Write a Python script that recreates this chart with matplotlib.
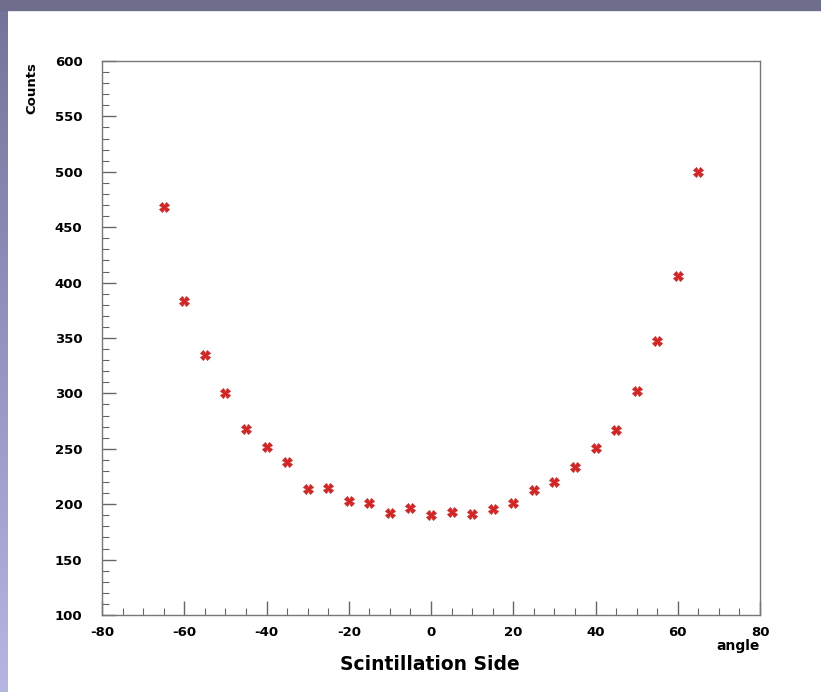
import numpy as np
import matplotlib
matplotlib.use("Agg")
import matplotlib.pyplot as plt
from matplotlib.ticker import MultipleLocator
from matplotlib.patches import Rectangle

# angle scan, scintillation side
angle = [-65, -60, -55, -50, -45, -40, -35, -30, -25, -20, -15, -10, -5,
         0, 5, 10, 15, 20, 25, 30, 35, 40, 45, 50, 55, 60, 65]
counts = [468, 383, 335, 300, 268, 252, 238, 214, 215, 203, 201, 192, 197,
          190, 193, 191, 196, 201, 213, 220, 234, 251, 267, 302, 347, 406, 500]

plt.rcParams['font.family'] = ['DejaVu Sans']
plt.rcParams['font.weight'] = 'bold'
plt.rcParams['axes.unicode_minus'] = False

fig = plt.figure(figsize=(8.21, 6.92), dpi=100)
fig.patch.set_facecolor('white')

# slide frame: top band and left gradient strip
fig.patches.append(Rectangle((0, 1 - 10 / 692), 1, 10 / 692, transform=fig.transFigure,
                             color='#6e6e8c', zorder=0))
grad = np.linspace(0, 1, 256).reshape(-1, 1)
cmap = matplotlib.colors.LinearSegmentedColormap.from_list('slide', ['#b6b6e2', '#9494c2', '#74749a'])
strip = fig.add_axes([0, 0, 7 / 821, 1 - 10 / 692])
strip.imshow(grad, aspect='auto', cmap=cmap, origin='lower')
strip.axis('off')

ax = fig.add_axes([102 / 821, 1 - 615 / 692, (760 - 102) / 821, (615 - 61) / 692])
ax.plot(angle, counts, linestyle='none', marker='X', markersize=6.5,
        color='#d42424', markeredgewidth=0.5)

ax.set_xlim(-80, 80)
ax.set_ylim(100, 600)
ax.xaxis.set_major_locator(MultipleLocator(20))
ax.xaxis.set_minor_locator(MultipleLocator(5))
ax.yaxis.set_major_locator(MultipleLocator(50))
ax.yaxis.set_minor_locator(MultipleLocator(10))
ax.tick_params(which='both', direction='in', color='#666666', labelsize=9.5)
ax.tick_params(which='major', length=10, width=1)
ax.tick_params(which='minor', length=5, width=0.8)
ax.tick_params(axis='x', pad=8)
ax.tick_params(axis='y', pad=14)
for lab in ax.get_xticklabels() + ax.get_yticklabels():
    lab.set_fontweight('bold')
for s in ax.spines.values():
    s.set_color('#777777')
    s.set_linewidth(1)

fig.text(430 / 821, 1 - 665 / 692, 'Scintillation Side', ha='center', va='center',
         fontsize=13.5, fontweight='bold')
fig.text(760 / 821, 1 - 646 / 692, 'angle', ha='right', va='center',
         fontsize=10, fontweight='bold')
fig.text(32 / 821, 1 - 62 / 692, 'Counts', ha='center', va='top', rotation=90,
         fontsize=9.5, fontweight='bold')

fig.savefig('out.png', dpi=100)
